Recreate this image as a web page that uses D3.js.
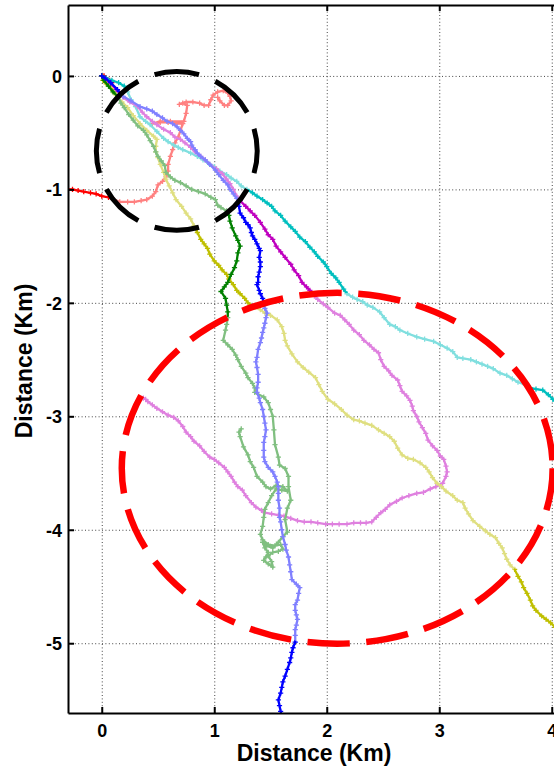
<!DOCTYPE html>
<html>
<head>
<meta charset="utf-8">
<script src="https://cdn.jsdelivr.net/npm/d3@7"></script>
<style>
  html, body { margin: 0; padding: 0; background: #fff; overflow: hidden; }
  svg { display: block; }
  text { font-family: "Liberation Sans", Arial, sans-serif; font-weight: bold; fill: #000; }
</style>
</head>
<body>
<svg id="chart" width="554" height="772"></svg>
<script>
// Tick values (km)
const xTicks = [0, 1, 2, 3, 4];
const yTicks = [0, -1, -2, -3, -4, -5];

// Track positions [east km, north km]; null breaks a track into pieces
const redTrack = [[0,0],[0.02,0],[0.04,-0.02],[0.07,-0.04],[0.09,-0.06],null,
  [-0.32,-1.00],[-0.26,-1.00],[-0.21,-1.01],[-0.16,-1.02],[-0.10,-1.03],[-0.05,-1.04],[0.00,-1.06],[0.06,-1.07],
  [0.11,-1.09],[0.16,-1.11],[0.23,-1.11],[0.29,-1.11],[0.35,-1.10],[0.40,-1.09],[0.45,-1.06],[0.48,-1.02],
  [0.50,-0.96],[0.54,-0.93],[0.57,-0.89],[0.59,-0.84],[0.59,-0.78],[0.61,-0.71],[0.63,-0.65],[0.65,-0.59],
  [0.68,-0.54],[0.70,-0.48],[0.72,-0.42],[0.66,-0.42],[0.59,-0.41],[0.52,-0.41],[0.45,-0.42],[0.52,-0.40],
  [0.61,-0.40],[0.73,-0.40],[0.75,-0.33],[0.76,-0.26],[0.72,-0.24],[0.69,-0.25],[0.75,-0.23],[0.81,-0.23],
  [0.87,-0.24],[0.91,-0.26],[0.95,-0.26],[0.97,-0.21],[0.99,-0.17],[1.03,-0.14],[1.08,-0.13],[1.12,-0.15],
  [1.14,-0.18],[1.15,-0.22],[1.12,-0.26],[1.09,-0.26],[1.05,-0.22],[1.03,-0.19]];

const cyanTrack = [[0,0],[0.04,-0.02],[0.09,-0.04],[0.15,-0.06],[0.20,-0.09],[0.23,-0.14],[0.26,-0.21],[0.30,-0.27],
  [0.34,-0.36],[0.39,-0.40],[0.43,-0.43],[0.49,-0.49],[0.55,-0.55],[0.59,-0.58],[0.64,-0.61],[0.68,-0.63],
  [0.72,-0.65],[0.79,-0.68],[0.85,-0.71],[0.90,-0.74],[0.95,-0.77],[1.00,-0.80],[1.05,-0.84],[1.11,-0.87],
  [1.15,-0.90],[1.20,-0.93],[1.24,-0.97],[1.29,-1.00],[1.34,-1.03],[1.38,-1.06],[1.43,-1.09],[1.47,-1.12],
  [1.51,-1.15],[1.54,-1.19],[1.59,-1.23],[1.63,-1.28],[1.68,-1.33],[1.72,-1.37],[1.76,-1.42],[1.81,-1.46],
  [1.85,-1.51],[1.89,-1.55],[1.92,-1.59],[1.97,-1.64],[2.00,-1.68],[2.04,-1.74],[2.08,-1.78],[2.11,-1.82],
  [2.15,-1.88],[2.18,-1.92],[2.23,-1.95],[2.27,-1.97],[2.32,-1.99],[2.36,-2.02],[2.41,-2.04],[2.47,-2.08],
  [2.51,-2.13],[2.56,-2.19],[2.61,-2.21],[2.65,-2.24],[2.72,-2.27],[2.80,-2.30],[2.87,-2.32],[2.95,-2.34],
  [3.01,-2.37],[3.07,-2.40],[3.12,-2.43],[3.16,-2.48],[3.21,-2.49],[3.28,-2.50],[3.33,-2.52],[3.38,-2.54],
  [3.43,-2.56],[3.48,-2.58],[3.54,-2.62],[3.60,-2.64],[3.65,-2.67],[3.70,-2.70],[3.76,-2.72],[3.81,-2.75],
  [3.86,-2.76],[3.92,-2.77],[3.97,-2.81],[4.01,-2.85],[4.06,-2.90]];

const magentaTrack = [[0,0],[0.03,-0.03],[0.08,-0.07],[0.13,-0.12],[0.19,-0.19],[0.25,-0.23],[0.32,-0.27],[0.36,-0.32],
  [0.40,-0.36],[0.45,-0.40],[0.49,-0.43],[0.55,-0.47],[0.61,-0.50],[0.65,-0.54],[0.70,-0.56],[0.74,-0.59],
  [0.79,-0.63],[0.83,-0.67],[0.88,-0.71],[0.92,-0.74],[0.96,-0.78],[1.02,-0.82],[1.07,-0.86],[1.11,-0.91],
  [1.14,-0.95],[1.17,-1.00],[1.20,-1.06],[1.23,-1.10],[1.28,-1.15],[1.32,-1.19],[1.36,-1.23],[1.41,-1.29],
  [1.45,-1.35],[1.48,-1.40],[1.52,-1.44],[1.55,-1.50],[1.59,-1.55],[1.63,-1.60],[1.68,-1.66],[1.71,-1.71],
  [1.75,-1.76],[1.78,-1.82],[1.82,-1.86],[1.85,-1.89],[1.89,-1.94],[1.92,-1.97],[1.97,-2.01],[2.01,-2.04],
  [2.07,-2.09],[2.12,-2.11],[2.16,-2.15],[2.20,-2.19],[2.24,-2.24],[2.29,-2.28],[2.33,-2.33],[2.38,-2.37],
  [2.42,-2.41],[2.46,-2.44],[2.48,-2.50],[2.51,-2.56],[2.55,-2.60],[2.58,-2.64],[2.63,-2.68],[2.65,-2.73],
  [2.67,-2.78],[2.71,-2.82],[2.74,-2.86],[2.76,-2.91],[2.77,-2.95],[2.80,-3.00],[2.82,-3.05],[2.85,-3.10],
  [2.88,-3.15],[2.90,-3.21],[2.94,-3.26],[2.98,-3.30],[3.01,-3.35],[3.04,-3.38],[3.06,-3.44],[3.07,-3.49],
  [3.06,-3.53],[3.03,-3.59],[2.97,-3.62],[2.92,-3.64],[2.86,-3.67],[2.80,-3.68],[2.73,-3.70],[2.67,-3.72],
  [2.62,-3.75],[2.56,-3.78],[2.52,-3.82],[2.48,-3.85],[2.44,-3.89],[2.40,-3.93],[2.35,-3.94],[2.30,-3.94],
  [2.24,-3.94],[2.18,-3.95],[2.11,-3.95],[2.05,-3.95],[1.99,-3.95],[1.92,-3.94],[1.86,-3.93],[1.80,-3.93],
  [1.74,-3.92],[1.68,-3.90],[1.62,-3.88],[1.57,-3.87],[1.51,-3.86],[1.45,-3.85],[1.42,-3.83],[1.37,-3.80],
  [1.33,-3.76],[1.28,-3.70],[1.25,-3.65],[1.21,-3.62],[1.18,-3.58],[1.15,-3.53],[1.12,-3.49],[1.09,-3.45],
  [1.04,-3.41],[1.00,-3.38],[0.96,-3.36],[0.91,-3.31],[0.87,-3.26],[0.82,-3.22],[0.79,-3.18],[0.75,-3.14],
  [0.72,-3.09],[0.68,-3.04],[0.64,-3.01],[0.59,-2.99],[0.54,-2.96],[0.49,-2.93],[0.45,-2.90],[0.41,-2.87],
  [0.39,-2.85],[0.37,-2.84]];

const yellowTrack = [[0,0],[0.01,-0.04],[0.04,-0.07],[0.08,-0.11],[0.11,-0.15],[0.15,-0.19],[0.18,-0.23],[0.23,-0.28],
  [0.28,-0.35],[0.34,-0.42],[0.40,-0.48],[0.46,-0.53],[0.49,-0.56],[0.48,-0.62],[0.48,-0.67],[0.50,-0.72],
  [0.52,-0.78],[0.55,-0.85],[0.57,-0.91],[0.60,-0.97],[0.63,-1.03],[0.66,-1.09],[0.71,-1.15],[0.75,-1.21],
  [0.79,-1.26],[0.82,-1.32],[0.85,-1.38],[0.88,-1.44],[0.91,-1.48],[0.94,-1.52],[0.96,-1.57],[1.00,-1.63],
  [1.04,-1.67],[1.07,-1.71],[1.11,-1.75],[1.13,-1.79],[1.17,-1.84],[1.20,-1.89],[1.23,-1.92],[1.27,-1.96],
  [1.30,-2.00],[1.36,-2.04],[1.41,-2.06],[1.45,-2.09],[1.50,-2.11],[1.56,-2.15],[1.60,-2.21],[1.62,-2.27],
  [1.63,-2.33],[1.65,-2.38],[1.69,-2.45],[1.74,-2.52],[1.79,-2.57],[1.84,-2.61],[1.90,-2.66],[1.93,-2.72],
  [1.96,-2.78],[2.01,-2.85],[2.07,-2.89],[2.13,-2.94],[2.18,-2.99],[2.24,-3.03],[2.29,-3.04],[2.34,-3.06],
  [2.40,-3.08],[2.46,-3.12],[2.51,-3.15],[2.56,-3.18],[2.60,-3.22],[2.63,-3.28],[2.67,-3.34],[2.72,-3.37],
  [2.77,-3.38],[2.83,-3.41],[2.88,-3.45],[2.91,-3.49],[2.94,-3.54],[2.98,-3.59],[3.02,-3.62],[3.06,-3.66],
  [3.12,-3.70],[3.16,-3.74],[3.21,-3.76],[3.23,-3.81],[3.26,-3.86],[3.30,-3.92],[3.36,-3.97],[3.41,-4.01],
  [3.45,-4.04],[3.50,-4.07],[3.53,-4.12],[3.56,-4.16],[3.58,-4.21],[3.60,-4.26],[3.63,-4.31],[3.67,-4.35],
  [3.70,-4.41],[3.73,-4.46],[3.75,-4.51],[3.78,-4.56],[3.81,-4.62],[3.83,-4.67],[3.86,-4.71],[3.91,-4.76],
  [3.95,-4.79],[3.99,-4.82],[4.03,-4.86],[4.08,-4.90]];

const greenTrack = [[0,0],[0.02,-0.04],[0.06,-0.09],[0.10,-0.14],[0.15,-0.19],[0.17,-0.24],[0.20,-0.28],[0.24,-0.34],
  [0.28,-0.39],[0.32,-0.44],[0.37,-0.48],[0.40,-0.52],[0.43,-0.57],[0.46,-0.62],[0.48,-0.67],[0.50,-0.71],
  [0.53,-0.75],[0.56,-0.79],[0.57,-0.85],[0.61,-0.89],[0.65,-0.92],[0.70,-0.94],[0.75,-0.97],[0.80,-1.00],
  [0.86,-1.02],[0.92,-1.04],[0.97,-1.07],[1.01,-1.09],[1.03,-1.14],[1.06,-1.16],[1.11,-1.19],[1.13,-1.23],
  [1.14,-1.28],[1.16,-1.34],[1.19,-1.41],[1.21,-1.45],[1.23,-1.50],[1.21,-1.56],[1.20,-1.63],[1.18,-1.69],
  [1.15,-1.75],[1.12,-1.82],[1.09,-1.86],[1.06,-1.90],[1.10,-1.96],[1.11,-2.02],[1.12,-2.08],[1.12,-2.13],
  [1.11,-2.19],[1.10,-2.24],[1.08,-2.33],[1.12,-2.37],[1.16,-2.41],[1.19,-2.46],[1.21,-2.50],[1.24,-2.56],
  [1.28,-2.62],[1.30,-2.66],[1.34,-2.71],[1.36,-2.75],[1.36,-2.79],[1.44,-2.83],[1.48,-2.88],[1.50,-2.94],
  [1.52,-3.00],[1.53,-3.12],[1.54,-3.25],[1.57,-3.36],[1.58,-3.43],[1.63,-3.46],[1.66,-3.53],[1.66,-3.62],
  [1.68,-3.74],[1.65,-3.81],[1.63,-3.91],[1.65,-4.02],[1.61,-4.06],[1.57,-4.11],[1.52,-4.16],[1.46,-4.14],
  [1.43,-4.11],[1.45,-4.16],[1.48,-4.20],[1.46,-4.24],[1.44,-4.27],[1.48,-4.30],[1.52,-4.33],[1.51,-4.28],
  [1.48,-4.23],[1.52,-4.20],[1.57,-4.19],[1.61,-4.17],[1.59,-4.13],[1.54,-4.14],[1.48,-4.13],[1.43,-4.09],
  [1.41,-4.04],[1.43,-3.97],[1.44,-3.89],[1.45,-3.82],[1.48,-3.76],[1.51,-3.70],[1.55,-3.64],[1.60,-3.65],
  [1.65,-3.66],[1.61,-3.62],[1.55,-3.61],[1.50,-3.64],[1.46,-3.62],[1.43,-3.58],[1.38,-3.53],[1.35,-3.45],
  [1.32,-3.40],[1.30,-3.34],[1.26,-3.27],[1.23,-3.18],[1.22,-3.14],[1.24,-3.11]];

const blueTrack = [[0,0],[0.03,-0.02],[0.08,-0.06],[0.14,-0.12],[0.19,-0.18],[0.26,-0.22],[0.34,-0.27],[0.40,-0.29],
  [0.45,-0.31],[0.49,-0.34],[0.54,-0.37],[0.58,-0.40],[0.63,-0.42],[0.67,-0.45],[0.70,-0.48],[0.73,-0.51],
  [0.76,-0.55],[0.79,-0.58],[0.80,-0.61],[0.83,-0.65],[0.85,-0.68],[0.88,-0.71],[0.92,-0.74],[0.96,-0.78],
  [1.01,-0.83],[1.04,-0.87],[1.08,-0.92],[1.12,-0.96],[1.14,-1.00],[1.17,-1.04],[1.20,-1.08],[1.21,-1.13],
  [1.22,-1.15],[1.23,-1.21],[1.26,-1.25],[1.28,-1.29],[1.30,-1.31],[1.32,-1.34],[1.33,-1.38],[1.34,-1.41],
  [1.36,-1.44],[1.38,-1.48],[1.40,-1.52],[1.41,-1.54],[1.40,-1.60],[1.41,-1.64],[1.41,-1.68],[1.40,-1.73],
  [1.39,-1.77],[1.39,-1.82],[1.38,-1.84],[1.40,-1.89],[1.41,-1.92],[1.43,-1.96],[1.44,-2.01],[1.45,-2.05],
  [1.47,-2.09],[1.46,-2.13],[1.45,-2.18],[1.44,-2.22],[1.43,-2.26],[1.42,-2.31],[1.41,-2.35],[1.39,-2.41],
  [1.38,-2.48],[1.37,-2.52],[1.38,-2.57],[1.39,-2.63],[1.39,-2.70],[1.38,-2.75],[1.38,-2.79],[1.40,-2.84],
  [1.41,-2.88],[1.43,-2.94],[1.44,-3.00],[1.45,-3.06],[1.46,-3.12],[1.45,-3.18],[1.44,-3.23],[1.44,-3.30],
  [1.44,-3.36],[1.45,-3.40],[1.48,-3.45],[1.52,-3.49],[1.54,-3.53],[1.56,-3.58],[1.57,-3.62],[1.57,-3.68],
  [1.57,-3.74],[1.58,-3.81],[1.58,-3.89],[1.59,-3.93],[1.60,-4.00],[1.61,-4.06],[1.63,-4.13],[1.64,-4.18],
  [1.66,-4.24],[1.67,-4.31],[1.68,-4.37],[1.69,-4.44],[1.73,-4.48],[1.76,-4.51],[1.75,-4.56],[1.74,-4.62],
  [1.72,-4.66],[1.72,-4.71],[1.73,-4.75],[1.74,-4.79],[1.73,-4.84],[1.72,-4.88],[1.72,-4.93],[1.72,-4.99],
  [1.70,-5.04],[1.69,-5.08],[1.68,-5.13],[1.67,-5.17],[1.65,-5.23],[1.63,-5.29],[1.61,-5.34],[1.60,-5.39],
  [1.59,-5.44],[1.57,-5.50],[1.58,-5.55],[1.59,-5.60],[1.60,-5.64]];

// Highlighted zones: centre and semi-axes in km
const nearZone = { cx: 0.667, cy: -0.661, rx: 0.715, ry: 0.700 };
const farZone  = { cx: 2.093, cy: -3.458, rx: 1.915, ry: 1.546 };

// Each track: saturated colour outside the zones, pale colour inside them
const tracks = [
  { points: redTrack,     dark: "#ff0000", pale: "#ff8080" },
  { points: cyanTrack,    dark: "#00bfbf", pale: "#80dfdf" },
  { points: magentaTrack, dark: "#bf00bf", pale: "#df80df" },
  { points: yellowTrack,  dark: "#bfbf00", pale: "#dfdf80" },
  { points: greenTrack,   dark: "#008000", pale: "#80bf80" },
  { points: blueTrack,    dark: "#0000ff", pale: "#8080ff" }
];

const W = 554, H = 772;
const L = 68, T = 5, B = 713, R = 608;

const x = d3.scaleLinear().domain([-0.3, 4.5]).range([L, R]);
const y = d3.scaleLinear().domain([0.625, -5.615]).range([T, B]);

const svg = d3.select("#chart");
const defs = svg.append("defs");

defs.append("clipPath").attr("id", "plotClip")
  .append("rect").attr("x", L).attr("y", T).attr("width", R - L).attr("height", B - T);

const zones = [nearZone, farZone];
const zoneAttrs = sel => sel
  .attr("cx", z => x(z.cx)).attr("cy", z => y(z.cy))
  .attr("rx", z => x(z.cx + z.rx) - x(z.cx))
  .attr("ry", z => y(z.cy - z.ry) - y(z.cy));

defs.append("clipPath").attr("id", "insideZones")
  .selectAll("ellipse").data(zones).join("ellipse").call(zoneAttrs);

const outMask = defs.append("mask").attr("id", "outsideZones")
  .attr("maskUnits", "userSpaceOnUse").attr("x", 0).attr("y", 0).attr("width", W).attr("height", H);
outMask.append("rect").attr("width", W).attr("height", H).attr("fill", "#fff");
outMask.selectAll("ellipse").data(zones).join("ellipse").call(zoneAttrs).attr("fill", "#000");

// Dotted grid
const gridStyle = g => {
  g.select(".domain").remove();
  g.selectAll(".tick line").attr("stroke", "#444").attr("stroke-width", 1).attr("stroke-dasharray", "1,2.4");
};
svg.append("g").attr("transform", `translate(0,${B})`)
  .call(d3.axisBottom(x).tickValues(xTicks).tickSize(-(B - T)).tickFormat(""))
  .call(gridStyle);
svg.append("g").attr("transform", `translate(${L},0)`)
  .call(d3.axisLeft(y).tickValues(yTicks).tickSize(-(R - L)).tickFormat(""))
  .call(gridStyle);

// Tracks
const plot = svg.append("g").attr("clip-path", "url(#plotClip)");
const darkLayer = plot.append("g").attr("mask", "url(#outsideZones)");
const paleLayer = plot.append("g").attr("clip-path", "url(#insideZones)");

const line = d3.line().defined(d => d !== null).x(d => x(d[0])).y(d => y(d[1]));
const plus = "M-2.6,0H2.6M0,-2.6V2.6";

function drawTracks(layer, key) {
  tracks.forEach(t => {
    const g = layer.append("g");
    g.append("path").attr("d", line(t.points))
      .attr("fill", "none").attr("stroke", t[key]).attr("stroke-width", 2.3)
      .attr("stroke-linejoin", "round").attr("stroke-linecap", "round");
    g.selectAll("path.mk").data(t.points.filter(d => d !== null)).join("path")
      .attr("class", "mk").attr("d", plus)
      .attr("transform", d => `translate(${x(d[0])},${y(d[1])})`)
      .attr("stroke", t[key]).attr("stroke-width", 1.3).attr("fill", "none");
  });
}
drawTracks(darkLayer, "dark");
drawTracks(paleLayer, "pale");

// Zone outlines
const near = plot.append("ellipse").datum(nearZone).call(zoneAttrs)
  .attr("fill", "none").attr("stroke", "#000").attr("stroke-width", 5);
const nearLen = near.node().getTotalLength();
const nearPeriod = nearLen / 8;
near.attr("stroke-dasharray", `${nearPeriod * 0.72},${nearPeriod * 0.28}`)
  .attr("stroke-dashoffset", nearPeriod * 0.36);

plot.append("ellipse").datum(farZone).call(zoneAttrs)
  .attr("fill", "none").attr("stroke", "#ff0000").attr("stroke-width", 6.5)
  .attr("stroke-dasharray", "42.5,16.5");

// Axes
const axisStyle = g => {
  g.select(".domain").attr("stroke", "#000").attr("stroke-width", 2);
  g.selectAll(".tick line").attr("stroke", "#000").attr("stroke-width", 2);
  g.selectAll(".tick text").attr("font-size", 18).attr("font-family", null).attr("fill", "#000");
};
svg.append("g").attr("transform", `translate(0,${B})`)
  .call(d3.axisBottom(x).tickValues(xTicks).tickSizeInner(-6).tickSizeOuter(0).tickFormat(d => String(d)))
  .call(axisStyle)
  .call(g => g.selectAll(".tick text").attr("y", 24).attr("dy", 0));
svg.append("g").attr("transform", `translate(0,${T})`)
  .call(d3.axisTop(x).tickValues(xTicks).tickSizeInner(-6).tickSizeOuter(0).tickFormat(""))
  .call(axisStyle);
svg.append("g").attr("transform", `translate(${L},0)`)
  .call(d3.axisLeft(y).tickValues(yTicks).tickSizeInner(-6).tickSizeOuter(0).tickPadding(6).tickFormat(d => String(d)))
  .call(axisStyle)
  .call(g => g.selectAll(".tick text").attr("dy", "0.36em"));

// Axis titles
svg.append("text").attr("x", 314).attr("y", 761).attr("text-anchor", "middle")
  .attr("font-size", 23).text("Distance (Km)");
svg.append("text").attr("transform", "translate(32,361) rotate(-90)").attr("text-anchor", "middle")
  .attr("font-size", 23).text("Distance (Km)");
</script>
</body>
</html>
